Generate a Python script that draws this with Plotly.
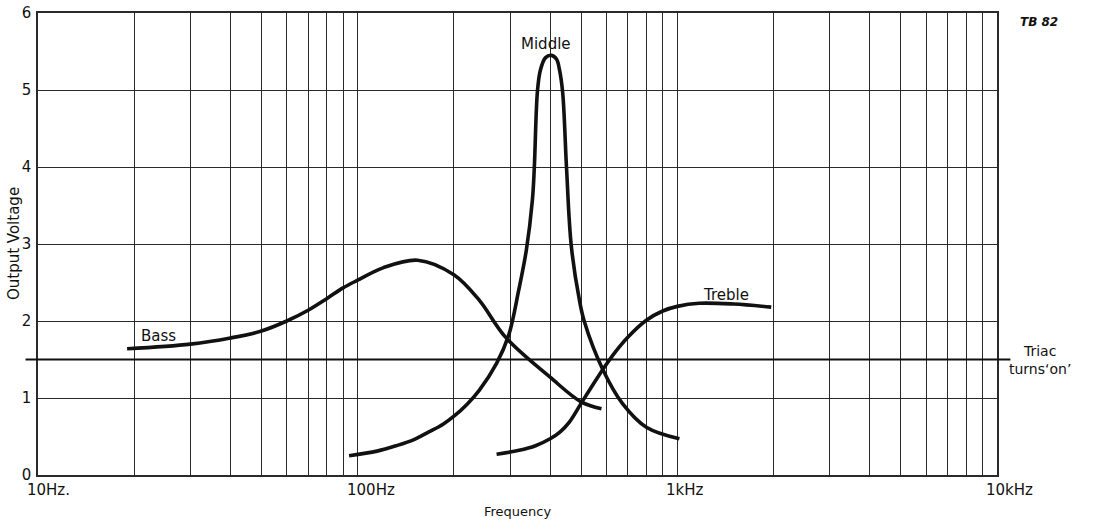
import math
import plotly.graph_objects as go

# Response curves of the three filter channels (frequency in Hz, output in V)
bass_f = [19, 30, 40, 50, 60, 70, 80, 90, 100, 120, 154, 200, 240, 290, 400, 500, 579]
bass_v = [1.64, 1.70, 1.78, 1.87, 2.00, 2.14, 2.29, 2.43, 2.53, 2.69, 2.79, 2.60, 2.27, 1.79, 1.27, 0.95, 0.86]

middle_f = [94, 115, 132, 150, 167, 185, 201, 220, 240, 272, 297, 319, 337, 352, 357, 365, 373, 387,
            404, 419, 428, 438, 450, 466, 494, 512, 583, 673, 800, 1015]
middle_v = [0.25, 0.31, 0.38, 0.46, 0.56, 0.66, 0.77, 0.92, 1.10, 1.45, 1.82, 2.40, 2.92, 3.57, 4.00,
            4.98, 5.26, 5.42, 5.45, 5.40, 5.26, 4.96, 4.00, 2.97, 2.27, 1.99, 1.38, 0.93, 0.62, 0.47]

treble_f = [272, 320, 360, 400, 430, 460, 500, 540, 591, 640, 700, 800, 900, 1000, 1172, 1500, 1967]
treble_v = [0.27, 0.32, 0.38, 0.47, 0.56, 0.69, 0.93, 1.15, 1.40, 1.60, 1.79, 2.01, 2.13, 2.19, 2.23, 2.22, 2.18]

triac_level = 1.5

# Log grid: 1..9 in each decade from 10 Hz to 10 kHz
grid_f = [m * 10 ** d for d in range(1, 4) for m in range(1, 10)] + [10000]
x_labels = [(10, "10Hz."), (100, "100Hz"), (1000, "1kHz"), (10000, "10kHz")]
y_ticks = [0, 1, 2, 3, 4, 5, 6]

FONT = "'DejaVu Sans', Verdana, sans-serif"
INK = "#111111"
GRID = "#2a2a2a"

fig = go.Figure()

for f, v in ((bass_f, bass_v), (middle_f, middle_v), (treble_f, treble_v)):
    fig.add_trace(go.Scatter(
        x=f, y=v, mode="lines",
        line=dict(color=INK, width=3.6, shape="spline", smoothing=1.0),
        hoverinfo="skip", showlegend=False,
    ))

# Triac threshold line, running slightly past both sides of the grid
fig.add_shape(type="line", xref="paper", yref="y", x0=-0.013, x1=1.014,
              y0=triac_level, y1=triac_level, line=dict(color=INK, width=2))


def lx(f):
    # annotation positions on a log axis are given in decades
    return math.log10(f)


annotations = []
for f, txt in x_labels:
    annotations.append(dict(x=lx(f), xref="x", y=0, yref="paper", text=txt, showarrow=False,
                            xanchor="left", yanchor="top", xshift=-13, yshift=-4,
                            font=dict(family=FONT, size=15, color=INK)))

annotations += [
    dict(x=0.5, xref="paper", y=-0.078, yref="paper", text="Frequency", showarrow=False,
         yanchor="middle", font=dict(family=FONT, size=13, color=INK)),
    dict(x=-0.025, xref="paper", y=0.5, yref="paper", text="Output Voltage", showarrow=False,
         textangle=-90, xanchor="center", font=dict(family=FONT, size=15, color=INK)),
    dict(x=lx(27.5), xref="x", y=1.80, yref="y", text="Bass", showarrow=False,
         xanchor="right", yanchor="middle", font=dict(family=FONT, size=15, color=INK)),
    dict(x=lx(387), xref="x", y=5.60, yref="y", text="Middle", showarrow=False,
         yanchor="middle", font=dict(family=FONT, size=15, color=INK)),
    dict(x=lx(1420), xref="x", y=2.34, yref="y", text="Treble", showarrow=False,
         yanchor="middle", font=dict(family=FONT, size=15, color=INK)),
    dict(x=1.045, xref="paper", y=triac_level, yref="y", text="Triac<br>turns\u2018on\u2019",
         showarrow=False, xanchor="center", yanchor="middle", align="center",
         font=dict(family=FONT, size=14, color=INK)),
    dict(x=1.044, xref="paper", y=0.98, yref="paper", text="<b><i>TB 82</i></b>", showarrow=False,
         xanchor="center", yanchor="middle", font=dict(family=FONT, size=12, color=INK)),
]

fig.update_layout(
    width=1104, height=522,
    margin=dict(l=38, r=107, t=13, b=47),
    paper_bgcolor="white", plot_bgcolor="white",
    annotations=annotations,
    xaxis=dict(type="log", range=[1, 4], tickvals=grid_f, showticklabels=False,
               ticks="", showgrid=True, gridcolor=GRID, gridwidth=1, automargin=False,
               showline=True, linecolor=GRID, linewidth=1.5, mirror=True, zeroline=False),
    yaxis=dict(range=[0, 6], tickvals=y_ticks, ticks="", showgrid=True, gridcolor=GRID,
               gridwidth=1, showline=True, linecolor=GRID, linewidth=1.5, mirror=True,
               zeroline=False, automargin=False, ticklabelstandoff=2,
               tickfont=dict(family=FONT, size=15, color=INK)),
)

fig.write_html("out.html")
